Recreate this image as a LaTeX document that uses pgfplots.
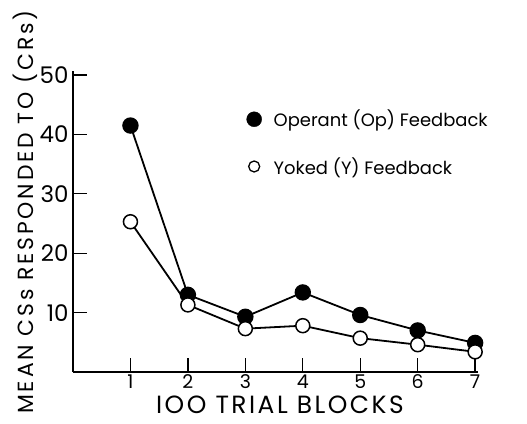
\documentclass[border=0pt]{standalone}
\usepackage{pgfplots}
\pgfplotsset{compat=1.18}
\usepackage{fontspec}
\setmainfont{Poppins}
\begin{document}
\begin{tikzpicture}[x=1bp,y=1bp]
\path[use as bounding box] (-73,-51) rectangle (454,372);
\begin{axis}[
  at={(0,0)}, anchor=south west,
  scale only axis, width=405bp, height=300.5bp,
  xmin=0, xmax=7.05, ymin=0, ymax=50.6,
  axis x line*=bottom, axis y line*=left,
  axis line style={line width=1.6bp},
  tick align=inside,
  major tick length=14bp,
  tick style={line width=1.3bp, black},
  xtick={1,2,3,4,5,6,7},
  ytick={10,20,30,40,50},
  /pgf/number format/assume math mode=true,
  yticklabel style={font=\fontsize{23}{23}\selectfont, xshift=-1bp},
  xticklabel style={font=\fontsize{19}{19}\selectfont, yshift=1bp},
  xlabel={IOO TRIAL BLOCKS},
  ylabel={MEAN CSs RESPONDED TO (CRs)},
  xlabel style={font=\fontsize{25}{25}\selectfont\addfontfeatures{LetterSpace=10}, inner sep=0pt, at={(axis description cs:0.511,-0.109)}, anchor=center},
  ylabel style={font=\fontsize{22}{22}\selectfont\addfontfeatures{LetterSpace=13}, inner sep=0pt, at={(axis description cs:-0.1185,0.532)}, anchor=center},
  legend style={at={(axis cs:3.02,44.8)}, anchor=north west, draw=none, fill=none,
    font=\fontsize{18}{18}\selectfont, row sep=25bp, inner xsep=0pt,
    /tikz/every odd column/.append style={column sep=10bp}},
  legend cell align=left,
]
\addlegendimage{only marks, mark=*, mark size=7.5bp, fill=black}
\addlegendentry{Operant (Op) Feedback}
\addlegendimage{only marks, mark=o, mark size=5.5bp, line width=1.3bp}
\addlegendentry{Yoked (Y) Feedback}
\addplot[forget plot, black, line width=1.8bp, mark=*, mark size=7.3bp, mark options={fill=black}]
  coordinates {(1,41.5) (2,13.0) (3,9.3) (4,13.4) (5,9.6) (6,7.0) (7,4.9)};
\addplot[forget plot, black, line width=1.8bp, mark=*, mark size=7bp, mark options={fill=white, line width=1.5bp}]
  coordinates {(1,25.3) (2,11.3) (3,7.3) (4,7.8) (5,5.7) (6,4.6) (7,3.4)};
\end{axis}
\end{tikzpicture}
\end{document}
